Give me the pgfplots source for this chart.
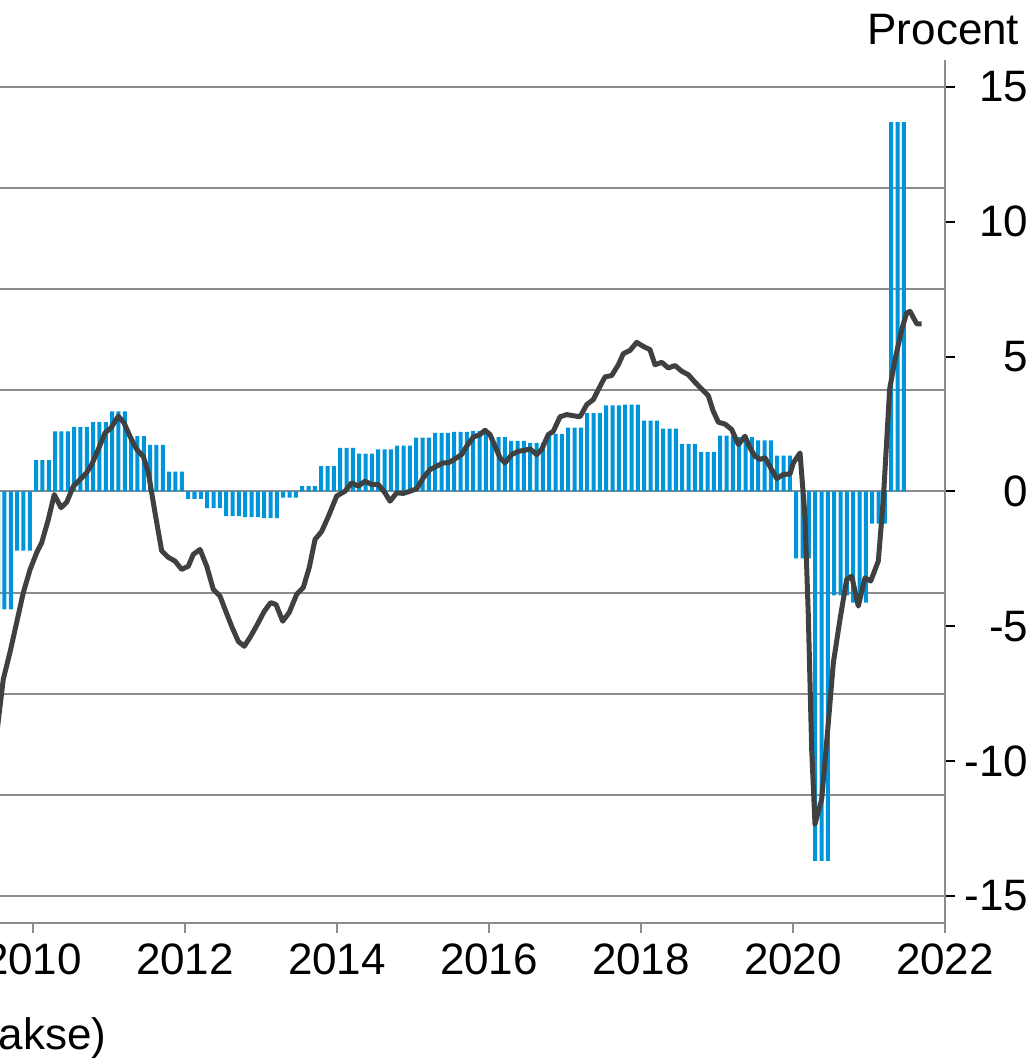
\documentclass[border=0pt]{standalone}
\usepackage{fontspec}
\setmainfont{Liberation Sans}
\usepackage{pgfplots}
\pgfplotsset{compat=1.18}
\definecolor{barblue}{RGB}{0,149,218}
\definecolor{linegray}{RGB}{64,64,64}
\definecolor{gridgray}{RGB}{140,140,140}
\begin{document}
\begin{tikzpicture}
\useasboundingbox (0,0) rectangle (258pt,265pt);
\begin{axis}[
 at={(0pt,34.25pt)}, anchor=south west,
 scale only axis, width=236.25pt, height=215.75pt,
 xmin=6.79, xmax=156, ymin=-16, ymax=16,
 axis x line*=bottom, axis y line*=right,
 axis line style={-, draw=gridgray, line width=0.5pt},
 xtick={12,36,60,84,108,132,156},
 xticklabels={2010,2012,2014,2016,2018,2020,2022},
 ytick={-15,-10,-5,0,5,10,15},
 tick align=outside,
 major tick length=2.5pt,
 xtick style={draw=gridgray, line width=0.5pt},
 ytick style={draw=black, line width=0.5pt},
 extra y ticks={-15,-11.25,-7.5,-3.75,0,3.75,7.5,11.25,15},
 extra y tick labels={},
 extra y tick style={grid=major, major tick length=0pt, tick style={draw=none}},
 grid style={draw=gridgray, line width=0.5pt},
 tick label style={font=\fontsize{11}{13}\selectfont},
 /pgf/number format/assume math mode=true,
 yticklabel style={anchor=east, inner sep=0pt, xshift=18.5pt},
 xticklabel style={anchor=north, inner sep=0pt, yshift=-2.5pt},
 clip=true,
]
\addplot[ybar, bar width=1pt, fill=barblue, draw=none] coordinates {
(6.5,-4.37)(7.5,-4.37)(8.5,-4.37)
(9.5,-2.19)(10.5,-2.19)(11.5,-2.19)
(12.5,1.16)(13.5,1.16)(14.5,1.16)
(15.5,2.23)(16.5,2.23)(17.5,2.23)
(18.5,2.40)(19.5,2.40)(20.5,2.40)
(21.5,2.57)(22.5,2.57)(23.5,2.57)
(24.5,2.97)(25.5,2.97)(26.5,2.97)
(27.5,2.05)(28.5,2.05)(29.5,2.05)
(30.5,1.73)(31.5,1.73)(32.5,1.73)
(33.5,0.74)(34.5,0.74)(35.5,0.74)
(36.5,-0.27)(37.5,-0.27)(38.5,-0.27)
(39.5,-0.62)(40.5,-0.62)(41.5,-0.62)
(42.5,-0.91)(43.5,-0.91)(44.5,-0.91)
(45.5,-0.95)(46.5,-0.95)(47.5,-0.95)
(48.5,-0.99)(49.5,-0.99)(50.5,-0.99)
(51.5,-0.23)(52.5,-0.23)(53.5,-0.23)
(54.5,0.20)(55.5,0.20)(56.5,0.20)
(57.5,0.94)(58.5,0.94)(59.5,0.94)
(60.5,1.62)(61.5,1.62)(62.5,1.62)
(63.5,1.40)(64.5,1.40)(65.5,1.40)
(66.5,1.56)(67.5,1.56)(68.5,1.56)
(69.5,1.70)(70.5,1.70)(71.5,1.70)
(72.5,2.00)(73.5,2.00)(74.5,2.00)
(75.5,2.17)(76.5,2.17)(77.5,2.17)
(78.5,2.21)(79.5,2.21)(80.5,2.21)
(81.5,2.25)(82.5,2.25)(83.5,2.25)
(84.5,2.02)(85.5,2.02)(86.5,2.02)
(87.5,1.88)(88.5,1.88)(89.5,1.88)
(90.5,1.80)(91.5,1.80)(92.5,1.80)
(93.5,2.14)(94.5,2.14)(95.5,2.14)
(96.5,2.37)(97.5,2.37)(98.5,2.37)
(99.5,2.91)(100.5,2.91)(101.5,2.91)
(102.5,3.19)(103.5,3.19)(104.5,3.19)
(105.5,3.22)(106.5,3.22)(107.5,3.22)
(108.5,2.63)(109.5,2.63)(110.5,2.63)
(111.5,2.33)(112.5,2.33)(113.5,2.33)
(114.5,1.77)(115.5,1.77)(116.5,1.77)
(117.5,1.47)(118.5,1.47)(119.5,1.47)
(120.5,2.07)(121.5,2.07)(122.5,2.07)
(123.5,2.02)(124.5,2.02)(125.5,2.02)
(126.5,1.90)(127.5,1.90)(128.5,1.90)
(129.5,1.33)(130.5,1.33)(131.5,1.33)
(132.5,-2.48)(133.5,-2.48)(134.5,-2.48)
(135.5,-13.7)(136.5,-13.7)(137.5,-13.7)
(138.5,-3.85)(139.5,-3.85)(140.5,-3.85)
(141.5,-4.12)(142.5,-4.12)(143.5,-4.12)
(144.5,-1.19)(145.5,-1.19)(146.5,-1.19)
(147.5,13.7)(148.5,13.7)(149.5,13.7)
};
\addplot[linegray, line width=1.25pt, line join=round, mark=none] coordinates {
(6.32,-8.9)(7.31,-6.96)(8.37,-5.96)(9.43,-4.85)(10.47,-3.75)(11.53,-2.9)(12.58,-2.27)(13.37,-1.9)(14.42,-1.04)(15.36,-0.11)(16.42,-0.6)(17.32,-0.4)(18.36,0.19)(19.42,0.44)(20.48,0.7)(21.27,1.0)(22.31,1.56)(23.37,2.17)(24.32,2.36)(25.47,2.79)(26.37,2.55)(27.32,2.04)(28.37,1.56)(29.42,1.3)(30.21,0.7)(31.26,-0.78)(32.32,-2.2)(33.36,-2.44)(34.42,-2.58)(35.48,-2.89)(36.52,-2.77)(37.31,-2.33)(38.37,-2.15)(39.43,-2.77)(40.47,-3.63)(41.53,-3.88)(42.32,-4.37)(43.37,-5.0)(44.42,-5.56)(45.36,-5.74)(46.37,-5.37)(47.42,-4.93)(48.52,-4.44)(49.53,-4.12)(50.37,-4.19)(51.43,-4.81)(52.47,-4.48)(53.64,-3.81)(54.68,-3.56)(55.63,-2.81)(56.53,-1.78)(57.58,-1.48)(58.63,-0.93)(59.95,-0.17)(61.26,0.01)(62.32,0.32)(63.36,0.2)(64.42,0.38)(65.48,0.26)(66.52,0.26)(67.58,-0.05)(68.37,-0.36)(69.43,-0.05)(70.47,-0.07)(71.53,0.01)(72.58,0.1)(73.63,0.51)(74.68,0.81)(75.74,0.94)(76.78,1.06)(77.57,1.06)(78.63,1.21)(79.69,1.37)(80.48,1.68)(81.52,2.02)(82.58,2.11)(83.37,2.27)(84.16,2.11)(84.95,1.68)(85.74,1.25)(86.53,1.06)(87.58,1.37)(88.63,1.49)(89.68,1.53)(90.47,1.58)(91.53,1.37)(92.32,1.56)(93.36,2.11)(94.15,2.23)(95.21,2.77)(96.27,2.85)(97.31,2.81)(98.37,2.77)(99.43,3.22)(100.47,3.41)(101.53,3.9)(102.32,4.25)(103.37,4.3)(104.42,4.7)(105.21,5.11)(106.26,5.23)(107.32,5.53)(108.36,5.38)(109.42,5.26)(110.21,4.7)(111.27,4.79)(112.31,4.58)(113.37,4.67)(114.43,4.46)(115.47,4.33)(116.53,4.05)(117.58,3.8)(118.63,3.55)(119.37,3.0)(120.21,2.57)(121.26,2.5)(122.32,2.3)(123.37,1.74)(124.42,2.05)(125.21,1.62)(126.0,1.31)(126.79,1.19)(127.58,1.25)(128.64,0.81)(129.43,0.48)(130.47,0.63)(131.53,0.65)(132.05,1.06)(133.11,1.43)(133.89,-0.91)(134.42,-4.62)(134.95,-9.56)(135.47,-12.33)(136.53,-11.41)(137.58,-8.57)(138.37,-6.35)(139.42,-4.74)(140.48,-3.26)(141.27,-3.14)(142.31,-4.25)(143.37,-3.2)(144.27,-3.32)(145.47,-2.58)(146.26,-0.3)(147.26,3.8)(148.11,4.89)(149.16,6.0)(149.95,6.62)(150.47,6.68)(151.53,6.22)(152.32,6.22)
};
\end{axis}
\node[anchor=base east, inner sep=0pt, font=\fontsize{11}{13}\selectfont] at (255pt,253.75pt) {Procent};
\node[anchor=base west, inner sep=0pt, font=\fontsize{11}{13}\selectfont] at (-0.5pt,2.5pt) {akse)};
\end{tikzpicture}
\end{document}
